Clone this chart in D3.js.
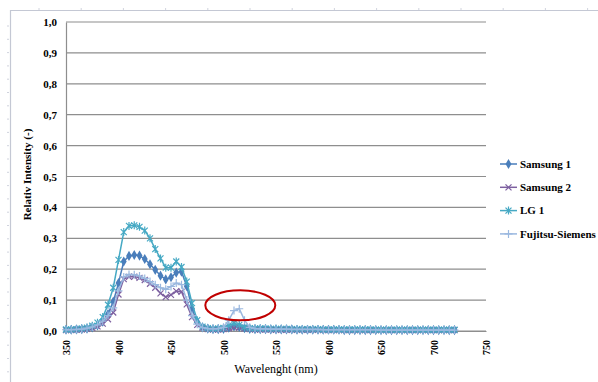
<!DOCTYPE html>
<html>
<head>
<meta charset="utf-8">
<script src="https://cdn.jsdelivr.net/npm/d3@7/dist/d3.min.js"></script>
<style>
  html, body { margin: 0; padding: 0; background: #fff; }
  svg { display: block; }
</style>
</head>
<body>
<svg id="chart" width="598" height="382"></svg>
<script>
// Wavelengths (nm), one sample every 5 nm
const wavelengths = [
  350,355,360,365,370,375,380,385,390,395,
  400,405,410,415,420,425,430,435,440,445,
  450,455,460,465,470,475,480,485,490,495,
  500,505,510,515,520,525,530,535,540,545,
  550,555,560,565,570,575,580,585,590,595,
  600,605,610,615,620,625,630,635,640,645,
  650,655,660,665,670,675,680,685,690,695,
  700,705,710,715,720
];

const samsung1 = [
  0.004,0.004,0.005,0.006,0.008,0.012,0.018,0.030,0.055,0.095,
  0.155,0.225,0.243,0.246,0.244,0.233,0.216,0.198,0.179,0.167,
  0.174,0.189,0.192,0.145,0.072,0.030,0.012,0.008,0.006,0.006,
  0.007,0.011,0.015,0.013,0.009,0.007,0.006,0.006,0.006,0.005,
  0.005,0.005,0.005,0.005,0.004,0.004,0.004,0.004,0.004,0.004,
  0.004,0.004,0.004,0.003,0.003,0.003,0.003,0.003,0.003,0.003,
  0.003,0.003,0.003,0.003,0.003,0.003,0.003,0.003,0.003,0.003,
  0.003,0.003,0.003,0.003,0.003
];

const samsung2 = [
  0.003,0.003,0.004,0.005,0.007,0.010,0.015,0.024,0.038,0.060,
  0.118,0.168,0.175,0.176,0.172,0.165,0.153,0.140,0.122,0.110,
  0.117,0.129,0.127,0.086,0.045,0.020,0.010,0.006,0.005,0.005,
  0.006,0.009,0.012,0.011,0.008,0.006,0.005,0.005,0.005,0.005,
  0.004,0.004,0.004,0.004,0.004,0.004,0.004,0.004,0.004,0.003,
  0.003,0.003,0.003,0.003,0.003,0.003,0.003,0.003,0.003,0.003,
  0.003,0.003,0.003,0.003,0.003,0.003,0.003,0.003,0.003,0.003,
  0.003,0.003,0.003,0.003,0.003
];

const lg1 = [
  0.005,0.005,0.006,0.008,0.011,0.017,0.027,0.045,0.085,0.140,
  0.230,0.320,0.340,0.342,0.337,0.325,0.300,0.265,0.235,0.205,
  0.205,0.225,0.207,0.160,0.090,0.035,0.014,0.009,0.007,0.008,
  0.010,0.018,0.025,0.020,0.012,0.009,0.008,0.008,0.008,0.007,
  0.007,0.007,0.007,0.006,0.006,0.006,0.006,0.006,0.006,0.005,
  0.005,0.005,0.005,0.005,0.005,0.005,0.005,0.005,0.005,0.004,
  0.004,0.004,0.004,0.004,0.004,0.004,0.004,0.004,0.004,0.004,
  0.004,0.004,0.004,0.004,0.004
];

const fujitsuSiemens = [
  0.004,0.004,0.005,0.006,0.009,0.013,0.020,0.032,0.050,0.075,
  0.130,0.175,0.183,0.182,0.178,0.170,0.160,0.150,0.140,0.135,
  0.144,0.155,0.150,0.100,0.050,0.022,0.011,0.008,0.007,0.008,
  0.012,0.035,0.066,0.072,0.035,0.012,0.008,0.007,0.007,0.006,
  0.006,0.006,0.006,0.005,0.005,0.005,0.005,0.005,0.005,0.004,
  0.004,0.004,0.004,0.004,0.004,0.004,0.004,0.004,0.004,0.004,
  0.003,0.003,0.003,0.003,0.003,0.003,0.003,0.003,0.003,0.003,
  0.003,0.003,0.003,0.003,0.003
];

const seriesNames = ["Samsung 1", "Samsung 2", "LG 1", "Fujitsu-Siemens"];
const xTickValues = [350, 400, 450, 500, 550, 600, 650, 700, 750];
const yTickValues = [0, 0.1, 0.2, 0.3, 0.4, 0.5, 0.6, 0.7, 0.8, 0.9, 1.0];

const seriesValues = [samsung1, samsung2, lg1, fujitsuSiemens];
const seriesColors = ["#4a7ebb", "#7d60a0", "#46a9c4", "#9ab8df"];
const seriesMarkers = ["diamond", "x", "asterisk", "plus"];

const svg = d3.select("#chart");
const serif = "'Liberation Serif', 'Times New Roman', serif";

// Worksheet frame with ruler ticks (top and left edges)
const frame = svg.append("g").attr("stroke", "#c4c8d4");
frame.append("line").attr("x1", 10).attr("x2", 598).attr("y1", 10.5).attr("y2", 10.5).attr("stroke-width", 1.2);
frame.append("line").attr("x1", 10.5).attr("x2", 10.5).attr("y1", 10).attr("y2", 382).attr("stroke-width", 1.2);
for (let x = 39; x < 598; x += 42.2) {
  frame.append("line").attr("x1", x).attr("x2", x).attr("y1", 8).attr("y2", 10).attr("stroke-width", 0.8);
}
for (let y = 26; y < 382; y += 13.3) {
  frame.append("line").attr("x1", 7).attr("x2", 9).attr("y1", y).attr("y2", y).attr("stroke-width", 0.8);
}

// Plot area
const x = d3.scaleLinear().domain([350, 750]).range([66, 486]);
const y = d3.scaleLinear().domain([0, 1]).range([331, 22]);

// Horizontal gridlines
svg.append("g")
  .selectAll("line")
  .data(yTickValues)
  .join("line")
  .attr("x1", x(350)).attr("x2", x(750))
  .attr("y1", d => y(d)).attr("y2", d => y(d))
  .attr("stroke", "#8e8e8e")
  .attr("stroke-width", 1.2);

// Y axis
const yAxis = svg.append("g")
  .attr("transform", `translate(${x(350)},0)`)
  .call(d3.axisLeft(y).tickValues(yTickValues).tickSize(0).tickPadding(9)
    .tickFormat(d => d3.format(".1f")(d).replace(".", ",")));
yAxis.select(".domain").attr("stroke", "#8e8e8e").attr("stroke-width", 1.2);
yAxis.selectAll("text")
  .attr("font-family", serif).attr("font-size", 11).attr("font-weight", "bold").attr("fill", "#000");

// X axis with vertical labels
const xAxis = svg.append("g")
  .attr("transform", `translate(0,${y(0)})`)
  .call(d3.axisBottom(x).tickValues(xTickValues).tickSize(0).tickFormat(d3.format("d")));
xAxis.select(".domain").attr("stroke", "#8e8e8e").attr("stroke-width", 1.2);
xAxis.selectAll("text")
  .attr("font-family", serif).attr("font-size", 10).attr("font-weight", "bold").attr("fill", "#000")
  .attr("transform", "rotate(-90)")
  .attr("text-anchor", "end")
  .attr("dy", "0.35em")
  .attr("x", -9)
  .attr("y", 0);

// Axis titles
svg.append("text")
  .attr("transform", `translate(31,${y(0.5) - 2}) rotate(-90)`)
  .attr("text-anchor", "middle")
  .attr("font-family", serif).attr("font-size", 11).attr("font-weight", "bold")
  .text("Relativ Intensity (-)");

svg.append("text")
  .attr("x", 276).attr("y", 373)
  .attr("text-anchor", "middle")
  .attr("font-family", serif).attr("font-size", 12)
  .text("Wavelenght (nm)");

// Marker shapes
function markerPath(kind) {
  switch (kind) {
    case "diamond": return d3.symbol(d3.symbolDiamond, 30)();
    case "x": return "M-3,-3L3,3M-3,3L3,-3";
    case "asterisk": return "M-3,-3L3,3M-3,3L3,-3M0,-4L0,4";
    default: return "M-4,0L4,0M0,-4L0,4";
  }
}

function drawMarker(g, kind, color) {
  const p = g.append("path").attr("d", markerPath(kind));
  if (kind === "diamond") p.attr("fill", color).attr("stroke", "none");
  else p.attr("fill", "none").attr("stroke", color).attr("stroke-width", 1.2);
}

const line = d3.line().x(d => x(d[0])).y(d => y(d[1]));

// Series lines and markers
seriesValues.forEach((vals, i) => {
  const pts = wavelengths.map((w, j) => [w, vals[j]]);
  const g = svg.append("g");
  g.append("path")
    .datum(pts)
    .attr("d", line)
    .attr("fill", "none")
    .attr("stroke", seriesColors[i])
    .attr("stroke-width", 1.5);
  pts.forEach(p => {
    const m = g.append("g").attr("transform", `translate(${x(p[0])},${y(p[1])})`);
    drawMarker(m, seriesMarkers[i], seriesColors[i]);
  });
});

// Highlight around the Fujitsu-Siemens green peak
svg.append("ellipse")
  .attr("cx", x(516)).attr("cy", y(0.083))
  .attr("rx", 35).attr("ry", 15)
  .attr("fill", "none")
  .attr("stroke", "#c00000")
  .attr("stroke-width", 2);

// Legend
const legend = svg.append("g");
seriesNames.forEach((name, i) => {
  const ly = 164 + i * 23.3;
  const item = legend.append("g").attr("transform", `translate(0,${ly})`);
  item.append("line").attr("x1", 500).attr("x2", 517).attr("y1", 0).attr("y2", 0)
    .attr("stroke", seriesColors[i]).attr("stroke-width", 1.5);
  drawMarker(item.append("g").attr("transform", "translate(508.5,0)"), seriesMarkers[i], seriesColors[i]);
  item.append("text")
    .attr("x", 520).attr("y", 0).attr("dy", "0.35em")
    .attr("font-family", serif).attr("font-size", 11).attr("font-weight", "bold")
    .text(name);
});
</script>
</body>
</html>
